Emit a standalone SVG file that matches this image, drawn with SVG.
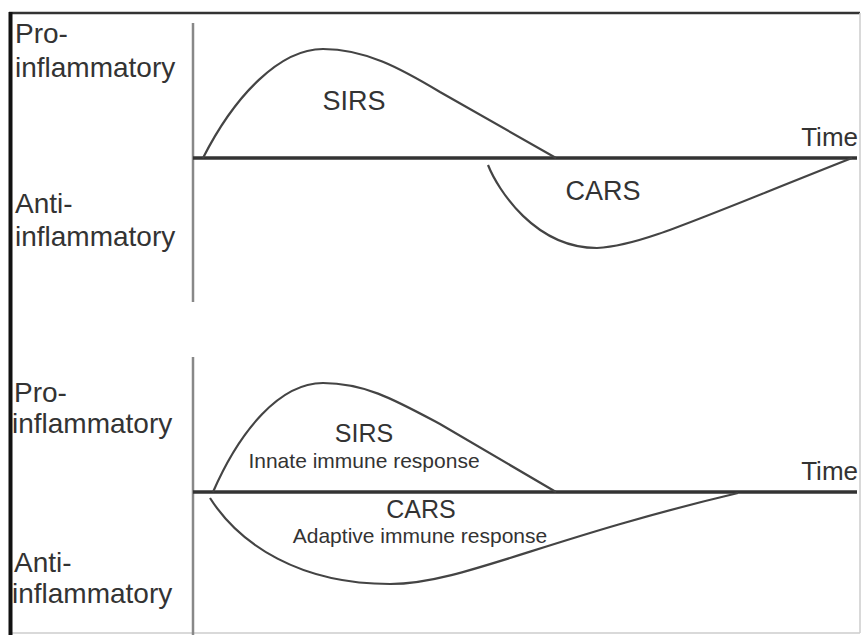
<svg xmlns="http://www.w3.org/2000/svg" width="862" height="635" viewBox="0 0 862 635">
<style>
  text { font-family: "Liberation Sans", Arial, sans-serif; fill: #333; }
  .lbl { font-size: 28px; }
  .big { font-size: 27px; text-anchor: middle; }
  .mid { font-size: 25px; text-anchor: middle; }
  .small { font-size: 21px; text-anchor: middle; }
  .time { font-size: 26px; text-anchor: end; }
  .vaxis { stroke: #888; stroke-width: 2.5; fill: none; }
  .haxis { stroke: #333; stroke-width: 3.5; fill: none; }
  .curve { stroke: #444; stroke-width: 2.2; fill: none; }
</style>
<rect x="0" y="0" width="862" height="635" fill="#fff"/>
<g id="frame">
  <line x1="9" y1="13" x2="860" y2="13" stroke="#333" stroke-width="2.5"/>
  <line x1="860" y1="13" x2="860" y2="633" stroke="#ccc" stroke-width="1.5"/>
  <line x1="9" y1="633" x2="860" y2="633" stroke="#ccc" stroke-width="1.5"/>
  <line x1="10.5" y1="12" x2="10.5" y2="635" stroke="#111" stroke-width="4"/>
</g>
<g id="top-panel">
  <g id="top-axes">
    <line class="vaxis" x1="193" y1="23" x2="193" y2="302"/>
    <line class="haxis" x1="193" y1="158" x2="857" y2="158"/>
  </g>
  <g id="top-labels">
    <text class="lbl" x="15" y="43">Pro-</text>
    <text class="lbl" x="15" y="77">inflammatory</text>
    <text class="lbl" x="15" y="213">Anti-</text>
    <text class="lbl" x="15" y="246">inflammatory</text>
    <text class="time" x="858" y="146">Time</text>
  </g>
  <g id="top-sirs">
    <path class="curve" d="M203,158 C235,95 280,49 323,49 C365,49 400,68 440,92 L556,158"/>
    <text class="big" x="354" y="110">SIRS</text>
  </g>
  <g id="top-cars">
    <path class="curve" d="M488,165 C498,190 535,248 597,248 C640,246 690,222 852,158"/>
    <text class="big" x="603" y="200">CARS</text>
  </g>
</g>
<g id="bottom-panel">
  <g id="bottom-axes">
    <line class="vaxis" x1="193" y1="357" x2="193" y2="635"/>
    <line class="haxis" x1="193" y1="492" x2="857" y2="492"/>
  </g>
  <g id="bottom-labels">
    <text class="lbl" x="14" y="402">Pro-</text>
    <text class="lbl" x="12" y="433">inflammatory</text>
    <text class="lbl" x="14" y="572">Anti-</text>
    <text class="lbl" x="12" y="603">inflammatory</text>
    <text class="time" x="858" y="480">Time</text>
  </g>
  <g id="bottom-sirs">
    <path class="curve" d="M213,492 C240,430 280,383 323,383 C365,383 395,400 440,424 L556,492"/>
    <text class="mid" x="364" y="442">SIRS</text>
    <text class="small" x="364" y="468">Innate immune response</text>
  </g>
  <g id="bottom-cars">
    <path class="curve" d="M210,498 C240,545 300,584 390,584 C460,584 540,540 738,493"/>
    <text class="mid" x="421" y="518">CARS</text>
    <text class="small" x="420" y="543">Adaptive immune response</text>
  </g>
</g>
</svg>
